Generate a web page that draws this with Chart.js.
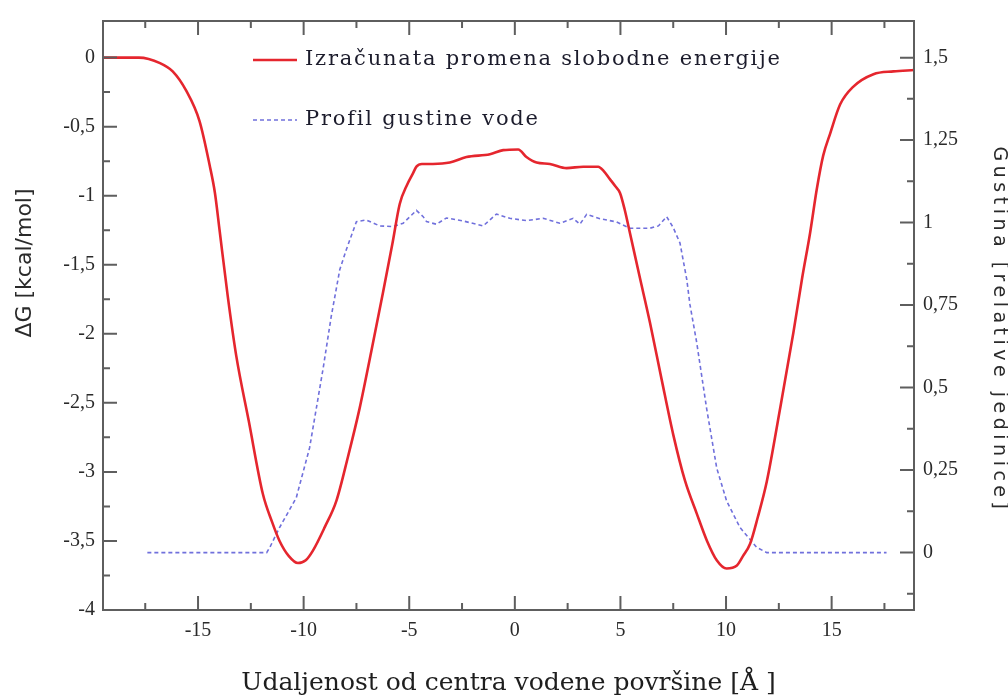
<!DOCTYPE html>
<html>
<head>
<meta charset="utf-8">
<script src="https://cdn.jsdelivr.net/npm/chart.js@4.4.1/dist/chart.umd.min.js"></script>
<style>
  html, body { margin: 0; padding: 0; background: #fff; }
  #wrap { width: 1008px; height: 698px; position: relative; }
</style>
</head>
<body>
<div id="wrap"><canvas id="chart"></canvas></div>
<script>
// ΔG profile (left axis)
const energyX = [-19.5, -18.5, -17.8, -16.8, -16.2, -15.56, -14.93, -14.45, -14.2, -13.98, -13.6, -13.19, -12.6, -11.93, -11.5, -11.14, -10.7, -10.27, -9.9, -9.56, -9.0, -8.45, -7.9, -7.35, -6.8, -6.24, -5.8, -5.45, -5.1, -4.83, -4.66, -4.4, -3.88, -3.08, -2.29, -1.18, -0.55, 0.16, 0.55, 1.03, 1.66, 2.45, 3.24, 3.95, 4.2, 4.5, 4.75, 4.98, 5.2, 5.45, 5.9, 6.4, 6.95, 7.5, 8.05, 8.61, 9.1, 9.56, 10.03, 10.5, 10.8, 11.14, 11.5, 11.93, 12.55, 13.19, 13.6, 13.98, 14.3, 14.6, 14.93, 15.4, 16.03, 16.98, 17.93, 18.9];
const energyY = [0, 0, 0, -0.04, -0.10, -0.24, -0.46, -0.78, -0.98, -1.25, -1.72, -2.16, -2.63, -3.16, -3.36, -3.50, -3.61, -3.66, -3.64, -3.57, -3.40, -3.21, -2.89, -2.54, -2.13, -1.70, -1.35, -1.06, -0.92, -0.84, -0.79, -0.77, -0.77, -0.76, -0.72, -0.70, -0.67, -0.665, -0.72, -0.76, -0.77, -0.80, -0.79, -0.79, -0.82, -0.88, -0.93, -0.98, -1.10, -1.27, -1.58, -1.92, -2.33, -2.73, -3.06, -3.30, -3.50, -3.64, -3.70, -3.68, -3.61, -3.52, -3.33, -3.07, -2.55, -1.99, -1.60, -1.27, -0.95, -0.71, -0.55, -0.34, -0.21, -0.12, -0.10, -0.09];

// water density profile (right axis)
const densityX = [-17.4, -11.75, -11.6, -11.14, -10.35, -9.72, -9.4, -9.08, -8.69, -8.29, -7.98, -7.5, -7.03, -6.4, -5.77, -5.29, -4.66, -4.34, -4.18, -3.71, -3.24, -2.45, -1.5, -0.87, -0.24, 0.55, 1.34, 2.13, 2.76, 3.08, 3.4, 4.03, 4.82, 5.45, 6.4, 6.8, 7.19, 7.5, 7.82, 8.14, 8.29, 8.61, 9.08, 9.56, 10.03, 10.66, 11.45, 11.93, 17.6];
const densityY = [0, 0, 0.016, 0.076, 0.166, 0.317, 0.437, 0.557, 0.717, 0.857, 0.918, 1.003, 1.008, 0.99, 0.988, 0.998, 1.037, 1.018, 1.003, 0.995, 1.014, 1.005, 0.99, 1.026, 1.013, 1.006, 1.013, 0.998, 1.013, 0.995, 1.025, 1.012, 1.002, 0.983, 0.983, 0.99, 1.018, 0.985, 0.938, 0.828, 0.752, 0.637, 0.437, 0.256, 0.156, 0.076, 0.016, 0, 0];

const seriesNames = ['Izračunata promena slobodne energije', 'Profil gustine vode'];
const xRange = [-19.5, 18.9];
const leftRange = [-4, 0.265];
const rightRange = [-0.174, 1.611];

const xTitle = 'Udaljenost od centra vodene površine [Å ]';
const leftTitle = 'ΔG [kcal/mol]';
const rightTitle = 'Gustina [relative jedinice]';

const fmt = v => String(Math.round(v * 1000) / 1000).replace('.', ',');
const tickFont = { family: 'Liberation Serif', size: 20 };

// frame, inward tick marks, y titles and the in-plot legend
const frameTicks = {
  id: 'frameTicks',
  afterDatasetsDraw(chart) {
    const { ctx, chartArea: a, scales } = chart;
    ctx.save();
    ctx.strokeStyle = '#5e5e5e';
    ctx.lineWidth = 2;
    ctx.strokeRect(a.left, a.top, a.right - a.left, a.bottom - a.top);

    const values = scale => {
      const step = scale.options.ticks.stepSize;
      const major = scale.ticks.map(t => t.value);
      const minor = major.flatMap(v => [v - step / 2, v + step / 2])
        .filter((v, i, arr) => arr.indexOf(v) === i && !major.includes(v) && v > scale.min && v < scale.max);
      return { major, minor };
    };
    const draw = (scale, fn) => {
      const { major, minor } = values(scale);
      major.forEach(v => fn(scale.getPixelForValue(v), 14));
      minor.forEach(v => fn(scale.getPixelForValue(v), 7));
    };
    ctx.beginPath();
    draw(scales.x, (p, len) => {
      ctx.moveTo(p, a.bottom); ctx.lineTo(p, a.bottom - len);
      ctx.moveTo(p, a.top); ctx.lineTo(p, a.top + len);
    });
    draw(scales.y, (p, len) => {
      if (p < a.top + 4) return;
      ctx.moveTo(a.left, p); ctx.lineTo(a.left + len, p);
    });
    draw(scales.y1, (p, len) => {
      ctx.moveTo(a.right, p); ctx.lineTo(a.right - len, p);
    });
    ctx.stroke();

    ctx.fillStyle = '#2a2a2a';
    ctx.textAlign = 'center';
    ctx.textBaseline = 'middle';

    // left axis title, read bottom to top
    ctx.save();
    ctx.translate(25, 263);
    ctx.rotate(-Math.PI / 2);
    ctx.font = '22px "DejaVu Sans"';
    ctx.fillText(leftTitle, 0, 0);
    ctx.restore();

    // right axis title, read top to bottom
    ctx.save();
    ctx.translate(999, 330);
    ctx.rotate(Math.PI / 2);
    ctx.font = '19px "DejaVu Sans"';
    ctx.letterSpacing = '4.5px';
    ctx.fillText(rightTitle, 0, 0);
    ctx.restore();

    // legend inside the plot
    ctx.font = '21px "DejaVu Serif"';
    ctx.letterSpacing = '1.8px';
    ctx.textAlign = 'left';
    chart.data.datasets.forEach((ds, i) => {
      const y = a.top + 39 + i * 60;
      const x0 = a.left + 150;
      ctx.beginPath();
      ctx.strokeStyle = ds.borderColor;
      ctx.lineWidth = ds.borderWidth;
      ctx.setLineDash(ds.borderDash || []);
      ctx.moveTo(x0, y);
      ctx.lineTo(x0 + 44, y);
      ctx.stroke();
      ctx.setLineDash([]);
      ctx.fillStyle = '#1c1c2c';
      ctx.fillText(ds.label, x0 + 52, y);
    });
    ctx.restore();
  }
};

const ctx = document.getElementById('chart').getContext('2d');
new Chart(ctx, {
  type: 'line',
  data: {
    datasets: [{
      label: seriesNames[0],
      data: energyX.map((x, i) => ({ x, y: energyY[i] })),
      yAxisID: 'y',
      borderColor: '#e5262e',
      borderWidth: 2.6,
      pointRadius: 0,
      cubicInterpolationMode: 'monotone'
    }, {
      label: seriesNames[1],
      data: densityX.map((x, i) => ({ x, y: densityY[i] })),
      yAxisID: 'y1',
      borderColor: '#7070dc',
      borderWidth: 1.6,
      borderDash: [4, 3],
      pointRadius: 0,
      tension: 0
    }]
  },
  options: {
    responsive: true,
    maintainAspectRatio: false,
    animation: false,
    layout: { padding: { top: 16, left: 0, right: 0, bottom: 0 } },
    plugins: { legend: { display: false }, tooltip: { enabled: false } },
    scales: {
      x: {
        type: 'linear',
        min: xRange[0], max: xRange[1],
        ticks: { stepSize: 5, includeBounds: false, padding: 9, color: '#2a2a2a', font: tickFont, callback: fmt, maxRotation: 0 },
        grid: { display: false, drawTicks: false },
        border: { display: false },
        title: { display: true, text: xTitle, color: '#1e1e1e', font: { family: 'DejaVu Serif', size: 25 }, padding: { top: 0, bottom: 0 } },
        afterFit: s => { s.height = 88; }
      },
      y: {
        position: 'left',
        min: leftRange[0], max: leftRange[1],
        ticks: { stepSize: 0.5, includeBounds: false, padding: 8, color: '#2a2a2a', font: tickFont, callback: fmt },
        grid: { display: false, drawTicks: false },
        border: { display: false },
        afterFit: s => { s.width = 103; }
      },
      y1: {
        position: 'right',
        min: rightRange[0], max: rightRange[1],
        ticks: { stepSize: 0.25, includeBounds: false, padding: 9, color: '#2a2a2a', font: tickFont, callback: fmt },
        grid: { display: false, drawTicks: false },
        border: { display: false },
        afterFit: s => { s.width = 94; }
      }
    }
  },
  plugins: [frameTicks]
});
</script>
</body>
</html>
